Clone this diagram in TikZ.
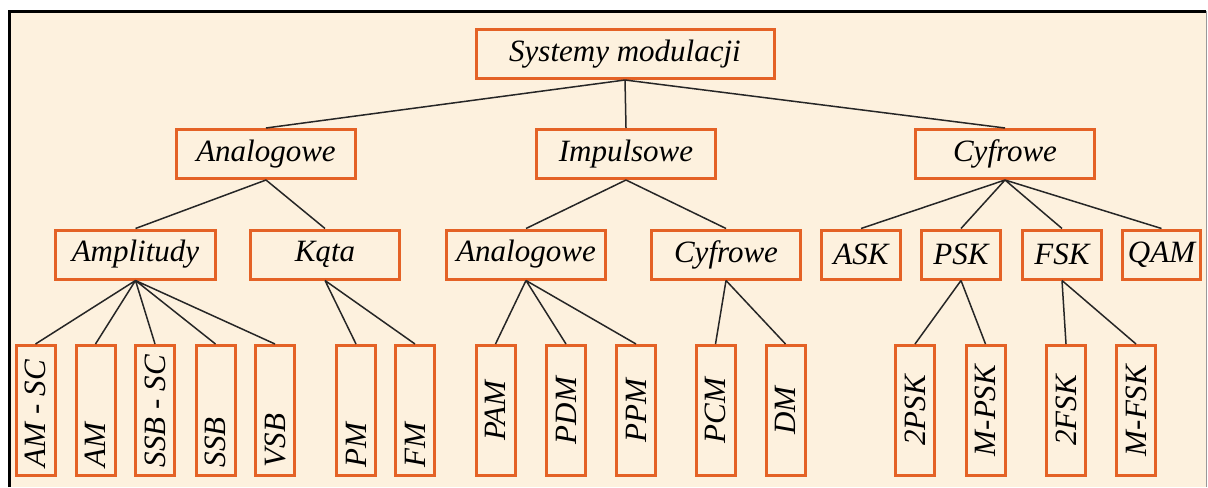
\documentclass[tikz,border=0pt]{standalone}
\usepackage{fontspec}
\setmainfont{Liberation Serif}
\usepackage{graphicx}
\usetikzlibrary{positioning}
\definecolor{boxorange}{RGB}{228,98,38}
\definecolor{paper}{RGB}{253,241,222}

\begin{document}
\begin{tikzpicture}[
    x=0.5pt, y=-0.5pt,
    mbox/.style={draw=boxorange, line width=1.5pt, fill=paper, inner sep=0pt,
                 minimum height=24.5pt,
                 font=\itshape\fontsize{15.5}{18}\selectfont},
    vbox/.style={mbox, minimum width=19.5pt, minimum height=65pt},
    link/.style={draw=black!85, line width=0.75pt}
  ]
  \useasboundingbox (0,0) rectangle (1208,487);
  % Frame
  \fill[paper] (8,10) rectangle (1206,487);
  \draw[line width=1.5pt] (9,487) -- (9,11) -- (1206,11);
  \draw[black!40, line width=0.5pt] (1206,11) -- (1206,487);

  % Root
  \node[mbox, minimum width=149pt] (sys) at (625,54) {Systemy modulacji};

  % Level 1
  \node[mbox, minimum width=89.5pt] (anl) at (266,154) {Analogowe};
  \node[mbox, minimum width=89.5pt] (imp) at (626,154) {Impulsowe};
  \node[mbox, minimum width=89.5pt] (cyf) at (1005,154) {Cyfrowe};

  % Level 2
  \node[mbox, minimum width=80pt]   (ampl) at (135.5,254.5) {Amplitudy};
  \node[mbox, minimum width=74.5pt] (kata) at (325,254.5) {Kąta};
  \node[mbox, minimum width=79.5pt] (anl2) at (526,254.5) {Analogowe};
  \node[mbox, minimum width=74.5pt] (cyf2) at (726,254.5) {Cyfrowe};
  \node[mbox, minimum width=39.5pt] (ask) at (861,254.5) {ASK};
  \node[mbox, minimum width=39.5pt] (psk) at (961,254.5) {PSK};
  \node[mbox, minimum width=39.5pt] (fsk) at (1062,254.5) {FSK};
  \node[mbox, minimum width=39pt]   (qam) at (1161.5,254.5) {QAM};

  % Level 3 (vertical labels)
  \node[vbox] (amsc)  at (35.5,410.5) {\rotatebox{90}{\makebox[56.5pt][l]{AM - SC}}};
  \node[vbox] (am)    at (95.5,410.5) {\rotatebox{90}{\makebox[56.5pt][l]{AM}}};
  \node[vbox] (ssbsc) at (155,410.5)  {\rotatebox{90}{\makebox[56.5pt][l]{SSB - SC}}};
  \node[vbox] (ssb)   at (215.5,410.5) {\rotatebox{90}{\makebox[56.5pt][l]{SSB}}};
  \node[vbox] (vsb)   at (275,410.5)  {\rotatebox{90}{\makebox[56.5pt][l]{VSB}}};
  \node[vbox] (pm)    at (356,410.5)  {\rotatebox{90}{\makebox[56.5pt][l]{PM}}};
  \node[vbox] (fm)    at (415,410.5)  {\rotatebox{90}{\makebox[56.5pt][l]{FM}}};
  \node[vbox] (pam)   at (495.5,410.5) {\rotatebox{90}{PAM}};
  \node[vbox] (pdm)   at (566,410.5)  {\rotatebox{90}{PDM}};
  \node[vbox] (ppm)   at (636,410.5)  {\rotatebox{90}{PPM}};
  \node[vbox] (pcm)   at (715.5,410.5) {\rotatebox{90}{PCM}};
  \node[vbox] (dm)    at (785.5,410.5) {\rotatebox{90}{DM}};
  \node[vbox] (psk2)  at (915,410.5)  {\rotatebox{90}{2PSK}};
  \node[vbox] (mpsk)  at (985.5,410.5) {\rotatebox{90}{M-PSK}};
  \node[vbox] (fsk2)  at (1066,410.5) {\rotatebox{90}{2FSK}};
  \node[vbox] (mfsk)  at (1136,410.5) {\rotatebox{90}{M-FSK}};

  % Connectors
  \draw[link] (sys.south) -- (anl.north) (sys.south) -- (imp.north)
              (sys.south) -- (cyf.north);
  \draw[link] (anl.south) -- (ampl.north) (anl.south) -- (kata.north);
  \draw[link] (imp.south) -- (anl2.north) (imp.south) -- (cyf2.north);
  \draw[link] (cyf.south) -- (ask.north) (cyf.south) -- (psk.north)
              (cyf.south) -- (fsk.north) (cyf.south) -- (qam.north);
  \draw[link] (ampl.south) -- (amsc.north) (ampl.south) -- (am.north)
              (ampl.south) -- (ssbsc.north) (ampl.south) -- (ssb.north)
              (ampl.south) -- (vsb.north);
  \draw[link] (kata.south) -- (pm.north) (kata.south) -- (fm.north);
  \draw[link] (anl2.south) -- (pam.north) (anl2.south) -- (pdm.north)
              (anl2.south) -- (ppm.north);
  \draw[link] (cyf2.south) -- (pcm.north) (cyf2.south) -- (dm.north);
  \draw[link] (psk.south) -- (psk2.north) (psk.south) -- (mpsk.north);
  \draw[link] (fsk.south) -- (fsk2.north) (fsk.south) -- (mfsk.north);
\end{tikzpicture}
\end{document}
